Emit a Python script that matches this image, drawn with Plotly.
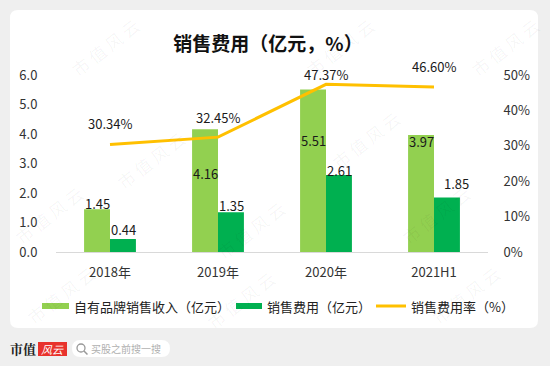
import plotly.graph_objects as go

# ---------------- data ----------------
categories = ["2018年", "2019年", "2020年", "2021H1"]
own_brand_revenue = [1.45, 4.16, 5.51, 3.97]      # 自有品牌销售收入（亿元）
selling_expense = [0.44, 1.35, 2.61, 1.85]        # 销售费用（亿元）
expense_ratio = [30.34, 32.45, 47.37, 46.60]      # 销售费用率（%）
left_ticks = [0, 1, 2, 3, 4, 5, 6]
right_ticks = [0, 10, 20, 30, 40, 50]
series_names = ["自有品牌销售收入（亿元）", "销售费用（亿元）", "销售费用率（%）"]

# label offsets (style only)
rev_label_shift = [6, -44, -51, -7]
exp_label_shift = [10, 7, 5, 14]
exp_label_xshift = [13, 13, 13, 22]
ratio_label_shift = [21, 20, 10, 21]

# ---------------- geometry helpers ----------------
W, H = 550, 366
L, R, T, B = 56, 488, 75, 252
FONT = "Noto Sans CJK SC"
C_REV, C_EXP, C_RATIO = "#92D050", "#00B050", "#FFC000"


def px(x):
    return (x - L) / (R - L)


def py(y):
    return (B - y) / (B - T)


def rrect(x0, y0, x1, y1, r):
    return (
        f"M {px(x0 + r)},{py(y0)} L {px(x1 - r)},{py(y0)} "
        f"Q {px(x1)},{py(y0)} {px(x1)},{py(y0 + r)} "
        f"L {px(x1)},{py(y1 - r)} Q {px(x1)},{py(y1)} {px(x1 - r)},{py(y1)} "
        f"L {px(x0 + r)},{py(y1)} Q {px(x0)},{py(y1)} {px(x0)},{py(y1 - r)} "
        f"L {px(x0)},{py(y0 + r)} Q {px(x0)},{py(y0)} {px(x0 + r)},{py(y0)} Z"
    )


def paper_text(x, y, text, font, xanchor="center", angle=0):
    return dict(x=px(x), y=py(y), xref="paper", yref="paper", text=text,
                showarrow=False, xanchor=xanchor, yanchor="middle",
                textangle=angle, font=font)


fig = go.Figure()

fig.add_trace(go.Bar(
    x=categories, y=own_brand_revenue, name=series_names[0],
    marker=dict(color=C_REV, line=dict(width=0)),
))
fig.add_trace(go.Bar(
    x=categories, y=selling_expense, name=series_names[1],
    marker=dict(color=C_EXP, line=dict(width=0)),
))
fig.add_trace(go.Scatter(
    x=categories, y=expense_ratio, name=series_names[2], yaxis="y2",
    mode="lines", line=dict(color=C_RATIO, width=3),
))

annotations = []
lab_font = dict(family=FONT, size=13, color="#1a1a1a")
for c, v, s in zip(categories, own_brand_revenue, rev_label_shift):
    annotations.append(dict(x=c, y=v, xref="x", yref="y", text=f"{v:.2f}",
                            showarrow=False, xshift=-13, yshift=s,
                            xanchor="center", yanchor="middle", font=lab_font))
for c, v, s, xs in zip(categories, selling_expense, exp_label_shift, exp_label_xshift):
    annotations.append(dict(x=c, y=v, xref="x", yref="y", text=f"{v:.2f}",
                            showarrow=False, xshift=xs, yshift=s,
                            xanchor="center", yanchor="middle", font=lab_font))
for c, v, s in zip(categories, expense_ratio, ratio_label_shift):
    annotations.append(dict(x=c, y=v, xref="x", yref="y2", text=f"{v:.2f}%",
                            showarrow=False, yshift=s,
                            xanchor="center", yanchor="middle", font=lab_font))

# watermarks (kept fully inside the picture)
wm_pos = [(105, 48), (340, 48), (505, 48), (150, 160), (365, 140),
          (435, 215), (48, 215), (240, 300), (465, 295), (60, 295), (250, 230)]
wm_font = dict(family=FONT, size=17, color="rgba(0,0,0,0.045)")
for (x, y) in wm_pos:
    annotations.append(paper_text(x, y, "市 值 风 云", wm_font, angle=-38))

# manual legend (text)
leg_font = dict(family=FONT, size=13, color="#222")
for name, xs in zip(series_names, [72, 265, 409]):
    annotations.append(paper_text(xs, 306, name, leg_font, xanchor="left"))

# footer
annotations.append(paper_text(22.5, 348, "<b>市值</b>",
                              dict(family="Noto Serif CJK SC, " + FONT, size=13, color="#222")))
annotations.append(paper_text(52.5, 349, "<i>风云</i>",
                              dict(family=FONT, size=11, color="white")))
annotations.append(paper_text(89, 348, "买股之前搜一搜",
                              dict(family=FONT, size=10, color="#b0b0b0"), xanchor="left"))

shapes = [
    dict(type="path", xref="paper", yref="paper", path=rrect(10, 10, 538, 328, 8),
         fillcolor="white", line=dict(width=0), layer="below"),
    dict(type="path", xref="paper", yref="paper", path=rrect(72, 340, 170, 357, 8.5),
         fillcolor="white", line=dict(width=0), layer="below"),
    dict(type="rect", xref="paper", yref="paper", x0=px(38), x1=px(67), y0=py(356), y1=py(342),
         fillcolor="#e8322c", line=dict(width=0), layer="below"),
    dict(type="circle", xref="paper", yref="paper", x0=px(77), x1=px(85), y0=py(352), y1=py(344),
         line=dict(color="#999", width=1.3)),
    dict(type="line", xref="paper", yref="paper", x0=px(84), x1=px(87.5), y0=py(351), y1=py(354.5),
         line=dict(color="#999", width=1.5)),
    # legend swatches
    dict(type="rect", xref="paper", yref="paper", x0=px(42), x1=px(69), y0=py(309), y1=py(303),
         fillcolor=C_REV, line=dict(width=0)),
    dict(type="rect", xref="paper", yref="paper", x0=px(236), x1=px(262), y0=py(309), y1=py(303),
         fillcolor=C_EXP, line=dict(width=0)),
    dict(type="line", xref="paper", yref="paper", x0=px(376), x1=px(406), y0=py(306), y1=py(306),
         line=dict(color=C_RATIO, width=3)),
]

fig.update_layout(
    width=W, height=H,
    margin=dict(l=L, r=W - R, t=T, b=H - B, pad=0, autoexpand=False),
    paper_bgcolor="#efefef",
    plot_bgcolor="rgba(0,0,0,0)",
    font=dict(family=FONT, size=13, color="#333"),
    title=dict(text="<b>销售费用（亿元，%）</b>", x=268 / W, xanchor="center",
               y=1 - 44 / H, yanchor="middle",
               font=dict(family=FONT, size=19, color="#111")),
    barmode="group", bargap=0.52, bargroupgap=0,
    showlegend=False,
    xaxis=dict(showline=True, linecolor="#d9d9d9", linewidth=1, showgrid=False,
               ticks="outside", ticklen=8, tickcolor="rgba(0,0,0,0)",
               tickfont=dict(family=FONT, size=13, color="#333")),
    yaxis=dict(range=[0, 6], tickvals=left_ticks,
               ticktext=[f"{v:.1f}" for v in left_ticks], showgrid=False,
               zeroline=False, showline=False, ticks="outside", ticklen=15,
               tickcolor="rgba(0,0,0,0)",
               tickfont=dict(family=FONT, size=13, color="#333")),
    yaxis2=dict(range=[0, 50], tickvals=right_ticks,
                ticktext=[f"{v}%" for v in right_ticks], overlaying="y",
                side="right", showgrid=False, zeroline=False, showline=False,
                ticks="outside", ticklen=12, tickcolor="rgba(0,0,0,0)",
                tickfont=dict(family=FONT, size=13, color="#333")),
    annotations=annotations,
    shapes=shapes,
)

fig.write_html("out.html", config={"displayModeBar": False},
               post_script="document.body.style.margin='0';document.body.style.overflow='hidden';")
